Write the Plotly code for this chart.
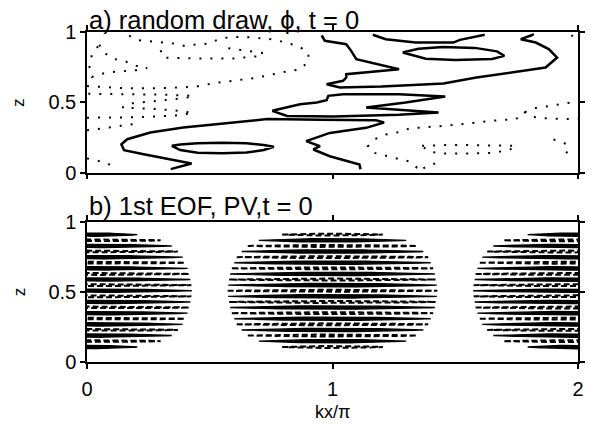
import numpy as np
import plotly.graph_objects as go

FONT = "Liberation Sans, Arial, Helvetica, sans-serif"

# ---------------------------------------------------------------
# Panel a: contours of phi (random draw), coordinates (kx/pi, z)
# positive levels (solid)
phi_pos_a_x = [0.341, 0.426, 0.231, 0.151, 0.140, 0.164, 0.258, 0.392, 0.526, 0.674, 0.734,
               0.950, 1.177, 1.210, 1.137, 0.989, 0.949, 0.893, 0.949, 0.922, 0.989, 1.056,
               1.110, 1.114]
phi_pos_a_z = [0.024, 0.064, 0.130, 0.159, 0.201, 0.237, 0.285, 0.320, 0.344, 0.368, 0.380,
               0.376, 0.372, 0.356, 0.318, 0.282, 0.258, 0.223, 0.187, 0.164, 0.116, 0.083,
               0.057, 0.024]
phi_pos_b_x = [0.345, 0.38, 0.45, 0.55, 0.65, 0.72, 0.761, 0.72, 0.65, 0.55, 0.45, 0.38, 0.345]
phi_pos_b_z = [0.190, 0.200, 0.208, 0.212, 0.208, 0.196, 0.183, 0.160, 0.142, 0.137, 0.140,
               0.160, 0.190]
phi_pos_c_x = [0.956, 0.969, 1.056, 1.076, 1.097, 1.244, 1.271, 1.056, 1.056, 1.043, 0.976,
               1.030, 1.200, 1.350, 1.452, 1.586, 1.720, 1.868, 1.915, 1.881, 1.828, 1.767,
               1.808, 1.820]
phi_pos_c_z = [0.975, 0.937, 0.913, 0.866, 0.807, 0.747, 0.735, 0.700, 0.676, 0.653, 0.628,
               0.605, 0.612, 0.625, 0.633, 0.676, 0.712, 0.747, 0.818, 0.878, 0.925, 0.949,
               0.975, 0.985]
phi_pos_d_x = [1.164, 1.217, 1.338, 1.492, 1.519, 1.620]
phi_pos_d_z = [0.980, 0.949, 0.925, 0.925, 0.944, 0.980]
phi_pos_e_x = [1.286, 1.35, 1.45, 1.58, 1.67, 1.70, 1.65, 1.50, 1.38, 1.286]
phi_pos_e_z = [0.854, 0.880, 0.893, 0.887, 0.862, 0.830, 0.808, 0.800, 0.810, 0.854]
phi_pos_f_x = [0.7545, 0.868, 0.936, 0.976, 0.983, 1.043, 1.271, 1.459, 1.298, 1.137, 1.298,
               1.432, 1.271, 1.003, 0.815, 0.7545]
phi_pos_f_z = [0.439, 0.486, 0.498, 0.515, 0.546, 0.557, 0.557, 0.541, 0.498, 0.463, 0.443,
               0.427, 0.411, 0.399, 0.403, 0.439]

# negative levels (dotted)
phi_neg_a_x = [0.0, 0.15, 0.30, 0.44, 0.53, 0.627, 0.681, 0.815, 0.868, 0.902, 0.902, 0.862,
               0.815, 0.761, 0.66, 0.587, 0.537, 0.497, 0.44, 0.40, 0.352, 0.303, 0.256,
               0.209, 0.164]
phi_neg_a_z = [0.615, 0.600, 0.600, 0.610, 0.640, 0.660, 0.671, 0.720, 0.733, 0.792, 0.852,
               0.899, 0.923, 0.947, 0.962, 0.966, 0.949, 0.918, 0.910, 0.900, 0.918, 0.925,
               0.932, 0.942, 0.980]
phi_neg_b_x = [0.30, 0.31, 0.45, 0.60, 0.694, 0.72, 0.651, 0.604, 0.55]
phi_neg_b_z = [0.870, 0.818, 0.812, 0.812, 0.827, 0.850, 0.866, 0.878, 0.890]
phi_neg_c_x = [0.05, 0.07, 0.111, 0.158, 0.20, 0.245, 0.20, 0.15, 0.10, 0.05, 0.02, 0.01,
               0.02, 0.05]
phi_neg_c_z = [0.910, 0.852, 0.808, 0.790, 0.760, 0.744, 0.728, 0.720, 0.715, 0.700, 0.680,
               0.750, 0.840, 0.910]
phi_neg_d_x = [0.0, 0.10, 0.20, 0.30, 0.38, 0.43, 0.37, 0.28, 0.20, 0.144, 0.17, 0.25, 0.33,
               0.40, 0.433, 0.38, 0.30, 0.20, 0.10, 0.0]
phi_neg_d_z = [0.390, 0.390, 0.393, 0.400, 0.408, 0.425, 0.440, 0.452, 0.460, 0.462, 0.490,
               0.505, 0.520, 0.530, 0.546, 0.550, 0.555, 0.556, 0.557, 0.560]
phi_neg_e_x = [0.0, 0.044, 0.09, 0.138, 0.19, 0.21]
phi_neg_e_z = [0.300, 0.308, 0.320, 0.332, 0.344, 0.360]
phi_neg_f_x = [1.345, 1.31, 1.27, 1.217, 1.17, 1.144, 1.17, 1.217, 1.27, 1.318, 1.365, 1.506,
               1.647, 1.747, 1.78, 1.821, 1.868, 1.915, 1.969, 2.0]
phi_neg_f_z = [0.033, 0.080, 0.096, 0.120, 0.140, 0.187, 0.235, 0.270, 0.287, 0.316, 0.320,
               0.340, 0.368, 0.380, 0.427, 0.458, 0.468, 0.482, 0.498, 0.500]
phi_neg_g_x = [1.78, 1.83, 1.88, 1.93, 1.975, 2.0]
phi_neg_g_z = [0.430, 0.390, 0.385, 0.380, 0.380, 0.380]
phi_neg_h_x = [1.365, 1.45, 1.55, 1.65, 1.747, 1.72, 1.65, 1.55, 1.45, 1.39, 1.365]
phi_neg_h_z = [0.190, 0.195, 0.195, 0.193, 0.190, 0.160, 0.140, 0.135, 0.135, 0.150, 0.190]
phi_neg_i_x = [1.37, 1.40, 1.43]
phi_neg_i_z = [0.030, 0.060, 0.065]
phi_neg_j_x = [1.90, 1.93, 1.955, 1.96, 1.95]
phi_neg_j_z = [0.235, 0.220, 0.200, 0.160, 0.130]
phi_neg_k_x = [0.0, 0.037, 0.081, 0.113]
phi_neg_k_z = [0.100, 0.088, 0.070, 0.028]
phi_neg_l_x = [1.975, 1.985]
phi_neg_l_z = [0.980, 0.930]

phi_pos = [(phi_pos_a_x, phi_pos_a_z), (phi_pos_b_x, phi_pos_b_z), (phi_pos_c_x, phi_pos_c_z),
           (phi_pos_d_x, phi_pos_d_z), (phi_pos_e_x, phi_pos_e_z), (phi_pos_f_x, phi_pos_f_z)]
phi_neg = [(phi_neg_a_x, phi_neg_a_z), (phi_neg_b_x, phi_neg_b_z), (phi_neg_c_x, phi_neg_c_z),
           (phi_neg_d_x, phi_neg_d_z), (phi_neg_e_x, phi_neg_e_z), (phi_neg_f_x, phi_neg_f_z),
           (phi_neg_g_x, phi_neg_g_z), (phi_neg_h_x, phi_neg_h_z), (phi_neg_i_x, phi_neg_i_z),
           (phi_neg_j_x, phi_neg_j_z), (phi_neg_k_x, phi_neg_k_z), (phi_neg_l_x, phi_neg_l_z)]

# ---------------------------------------------------------------
# Panel b: 1st EOF of PV -- thin stacked layers in three lobes
eof_row_z = [0.910, 0.869, 0.829, 0.789, 0.749, 0.709, 0.669, 0.629, 0.589, 0.549, 0.509,
             0.469, 0.429, 0.389, 0.349, 0.309, 0.269, 0.229, 0.189, 0.149, 0.107]
eof_row_halfwidth = [0.205, 0.300, 0.345, 0.370, 0.390, 0.400, 0.410, 0.417, 0.421, 0.425,
                     0.427, 0.425, 0.421, 0.417, 0.410, 0.400, 0.390, 0.370, 0.345, 0.300,
                     0.205]
eof_row_sign = [1, -1, 1, -1, 1, -1, 1, -1, 1, -1, 1, -1, 1, -1, 1, -1, 1, -1, 1, -1, 1]
eof_lobe_centre = [0.0, 1.0, 2.0]
eof_lobe_sign = [1, -1, 1]

x_tick_vals = [0, 1, 2]
x_tick_text = ["0", "1", "2"]
z_tick_vals = [0, 0.5, 1]
z_tick_text = ["0", "0.5", "1"]


def join_paths(paths):
    xs, zs = [], []
    for px, pz in paths:
        xs += list(px) + [None]
        zs += list(pz) + [None]
    return xs, zs


def lens(cx, hw, zc, half_thick, n=41):
    u = np.linspace(-1.0, 1.0, n)
    x = cx + hw * u
    dz = half_thick * (1.0 - u ** 2)
    xs = np.concatenate([x, x[::-1], x[:1]])
    zs = np.concatenate([zc + dz, (zc - dz)[::-1], [zc]])
    return xs.tolist(), zs.tolist()


fig = go.Figure()

px_, pz_ = join_paths(phi_pos)
fig.add_trace(go.Scatter(x=px_, y=pz_, mode="lines", xaxis="x", yaxis="y",
                         line=dict(color="black", width=2.5), hoverinfo="skip"))
nx_, nz_ = join_paths(phi_neg)
fig.add_trace(go.Scatter(x=nx_, y=nz_, mode="lines", xaxis="x", yaxis="y",
                         line=dict(color="black", width=2, dash="2px,9px"), hoverinfo="skip"))

pos_paths, neg_paths = [], []
for c, ls in zip(eof_lobe_centre, eof_lobe_sign):
    for zc, hw, rs in zip(eof_row_z, eof_row_halfwidth, eof_row_sign):
        if ls * rs > 0:
            pos_paths.append(lens(c, hw, zc, 0.012))
        else:
            neg_paths.append(lens(c, hw, zc, 0.007))

ex, ez = join_paths(pos_paths)
fig.add_trace(go.Scatter(x=ex, y=ez, mode="lines", xaxis="x2", yaxis="y2", fill="toself",
                         fillcolor="black", line=dict(color="black", width=1.4),
                         hoverinfo="skip"))
ex, ez = join_paths(neg_paths)
fig.add_trace(go.Scatter(x=ex, y=ez, mode="lines", xaxis="x2", yaxis="y2",
                         line=dict(color="black", width=2, dash="6px,3px"),
                         hoverinfo="skip"))

axis_common = dict(showline=True, linecolor="black", linewidth=1.5, mirror="ticks",
                   ticks="outside", ticklen=5, tickwidth=1.5, tickcolor="black",
                   showgrid=False, zeroline=False,
                   tickfont=dict(family=FONT, size=20, color="black"))

fig.update_layout(
    width=591, height=426,
    margin=dict(l=87, r=6, t=32, b=64),
    paper_bgcolor="white", plot_bgcolor="white",
    showlegend=False,
    xaxis=dict(domain=[0, 1], range=[0, 2], anchor="y", tickvals=x_tick_vals,
               showticklabels=False, **axis_common),
    yaxis=dict(domain=[0.5742, 1], range=[0, 1], anchor="x", tickvals=z_tick_vals,
               ticktext=z_tick_text, **axis_common),
    xaxis2=dict(domain=[0, 1], range=[0, 2], anchor="y2", tickvals=x_tick_vals,
                ticktext=x_tick_text, ticklabelstandoff=3, **axis_common),
    yaxis2=dict(domain=[0, 0.4242], range=[0, 1], anchor="x2", tickvals=z_tick_vals,
                ticktext=z_tick_text, **axis_common),
    annotations=[
        dict(text="a) random draw, \u03d5, t = 0", xref="paper", yref="paper", x=0, y=0.989,
             xanchor="left", yanchor="bottom", showarrow=False,
             font=dict(family=FONT, size=25.5, color="black")),
        dict(text="b) 1st EOF, PV,t = 0", xref="paper", yref="paper", x=0, y=0.4242,
             xanchor="left", yanchor="bottom", showarrow=False,
             font=dict(family=FONT, size=25.5, color="black")),
        dict(text="z", xref="paper", yref="paper", x=-0.138, y=0.7856, textangle=-90,
             xanchor="center", yanchor="middle", showarrow=False,
             font=dict(family=FONT, size=17, color="black")),
        dict(text="z", xref="paper", yref="paper", x=-0.138, y=0.212, textangle=-90,
             xanchor="center", yanchor="middle", showarrow=False,
             font=dict(family=FONT, size=17, color="black")),
        dict(text="kx/\u03c0", xref="paper", yref="paper", x=0.5, y=-0.152,
             xanchor="center", yanchor="middle", showarrow=False,
             font=dict(family=FONT, size=18, color="black")),
    ],
)

fig.write_html("out.html")
